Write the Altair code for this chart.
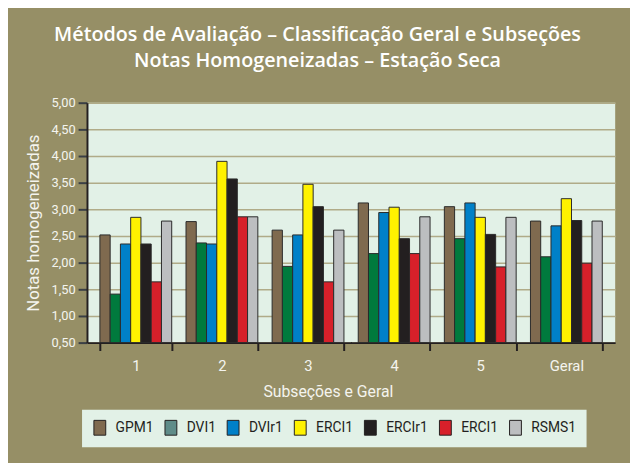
import altair as alt
import pandas as pd

groups = ["1", "2", "3", "4", "5", "Geral"]
series_names = ["GPM1", "DVI1", "DVIr1", "ERCI1", "ERCIr1", "ERCI1", "RSMS1"]
GPM1 = [2.52, 2.77, 2.61, 3.12, 3.05, 2.78]
DVI1 = [1.41, 2.37, 1.93, 2.17, 2.45, 2.11]
DVIr1 = [2.35, 2.35, 2.52, 2.94, 3.12, 2.69]
ERCI1 = [2.85, 3.90, 3.47, 3.04, 2.85, 3.20]
ERCIr1 = [2.35, 3.57, 3.05, 2.45, 2.53, 2.79]
ERCI1_b = [1.64, 2.86, 1.64, 2.17, 1.92, 1.99]
RSMS1 = [2.78, 2.86, 2.61, 2.86, 2.85, 2.78]
series_values = [GPM1, DVI1, DVIr1, ERCI1, ERCIr1, ERCI1_b, RSMS1]
bar_colors = ["#7f6a4f", "#007a3d", "#0080c8", "#fff200", "#231f20", "#d7202a", "#bcbec0"]
legend_colors = ["#7f6a4f", "#5f8c89", "#0080c8", "#fff200", "#231f20", "#d7202a", "#bcbec0"]
y_ticks = [0.5, 1.0, 1.5, 2.0, 2.5, 3.0, 3.5, 4.0, 4.5, 5.0]
title_lines = ["Métodos de Avaliação – Classificação Geral e Subseções",
               "Notas Homogeneizadas – Estação Seca"]

keys = [f"{i} {n}" for i, n in enumerate(series_names)]
rows = []
for k, vals in zip(keys, series_values):
    for g, v in zip(groups, vals):
        rows.append({"grupo": g, "serie": k, "nota": v})
df = pd.DataFrame(rows)
leg_df = pd.DataFrame({"serie": keys, "nota": [y_ticks[0]] * len(keys)})

FONT = "Roboto, sans-serif"
LABEL = "#f4f4ee"
ysc = alt.Scale(domain=[y_ticks[0], y_ticks[-1]], nice=False, zero=False)
yaxis = alt.Axis(values=y_ticks,
                 labelExpr="replace(format(datum.value, '.2f'), '.', ',')",
                 grid=True, gridColor="#b0ab88", gridWidth=1.5,
                 domainColor="#231f20", domainWidth=2,
                 tickColor="#3a3f45", tickSize=9, tickWidth=2,
                 labelFont=FONT, labelFontSize=13, labelColor=LABEL, labelPadding=3,
                 titleFont=FONT, titleFontSize=17, titleFontWeight="normal",
                 titleColor=LABEL, titleX=-49, titleY=121.5,
                 titleBaseline="alphabetic")

bars = alt.Chart(df).mark_bar(stroke="#2a2a2a", strokeWidth=1).encode(
    x=alt.X("grupo:N", sort=groups,
            scale=alt.Scale(paddingInner=0.166, paddingOuter=0.15),
            title="Subseções e Geral",
            axis=alt.Axis(labelAngle=0, tickBand="extent", tickSize=8, tickWidth=2,
                          tickColor="#231f20", domainColor="#231f20", domainWidth=2,
                          labelFont=FONT, labelFontSize=15, labelColor=LABEL, labelPadding=8,
                          titleFont=FONT, titleFontSize=16, titleFontWeight="normal",
                          titleColor=LABEL, titleX=244, titleY=55,
                          titleBaseline="alphabetic", grid=False)),
    xOffset=alt.XOffset("serie:N", sort=keys, scale=alt.Scale(paddingInner=0, paddingOuter=0)),
    y=alt.Y("nota:Q", scale=ysc, title="Notas homogeneizadas", axis=yaxis),
    y2=alt.datum(y_ticks[0]),
    color=alt.Color("serie:N", scale=alt.Scale(domain=keys, range=bar_colors), legend=None),
)

leg = alt.Chart(leg_df).mark_bar(stroke="#2a2a2a", strokeWidth=1).encode(
    y=alt.Y("nota:Q", scale=ysc, title="Notas homogeneizadas", axis=yaxis),
    y2=alt.datum(y_ticks[0]),
    color=alt.Color("serie:N", title=None,
                    scale=alt.Scale(domain=keys, range=legend_colors),
                    legend=alt.Legend(orient="none", legendX=-5, legendY=311,
                                      direction="horizontal", columns=7,
                                      labelExpr="slice(datum.label, 2)",
                                      fillColor="#e2f1e7", padding=10,
                                      symbolType="M-0.8,-1H0.8V1H-0.8Z", symbolSize=225,
                                      symbolStrokeColor="#231f20", symbolStrokeWidth=1,
                                      labelFont=FONT, labelFontSize=14, labelColor="#231f20",
                                      columnPadding=9, labelOffset=8)),
)

chart = alt.layer(bars, leg).resolve_scale(color="independent").properties(
    width=535, height=243,
    padding={"left": 80, "top": 93, "right": 15, "bottom": 119},
    autosize=alt.AutoSizeParams(type="none"),
    background="#968f66",
    title=alt.TitleParams(text=title_lines, color="white", font="Open Sans",
                          fontSize=20, fontWeight=600, lineHeight=26,
                          anchor="middle", dx=-34, offset=26),
).configure_view(stroke=None, fill="#e2f1e7")

chart.save("out.html", embed_options={"renderer": "svg", "actions": False})
